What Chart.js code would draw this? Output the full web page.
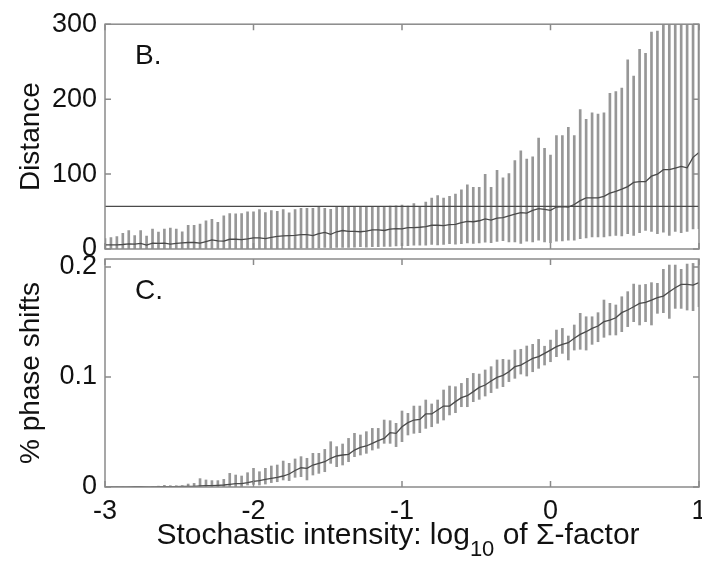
<!DOCTYPE html>
<html>
<head>
<meta charset="utf-8">
<script src="https://cdn.jsdelivr.net/npm/chart.js@4.4.1/dist/chart.umd.min.js"></script>
<style>
  body { margin: 0; background: #fff; }
  #wrap { position: relative; width: 702px; height: 566px; }
  #wrap canvas { position: absolute; left: 0; top: 0; }
</style>
</head>
<body>
<div id="wrap">
  <canvas id="distChart" width="702" height="566"></canvas>
  <canvas id="phaseChart" width="702" height="566"></canvas>
</div>
<script>
// x grid: log10 of the Sigma-factor
const xs = [
  -3, -2.96, -2.92, -2.88, -2.84, -2.8, -2.76, -2.72, -2.68, -2.64,
  -2.6, -2.56, -2.52, -2.48, -2.44, -2.4, -2.36, -2.32, -2.28, -2.24,
  -2.2, -2.16, -2.12, -2.08, -2.04, -2, -1.96, -1.92, -1.88, -1.84,
  -1.8, -1.76, -1.72, -1.68, -1.64, -1.6, -1.56, -1.52, -1.48, -1.44,
  -1.4, -1.36, -1.32, -1.28, -1.24, -1.2, -1.16, -1.12, -1.08, -1.04,
  -1, -0.96, -0.92, -0.88, -0.84, -0.8, -0.76, -0.72, -0.68, -0.64,
  -0.6, -0.56, -0.52, -0.48, -0.44, -0.4, -0.36, -0.32, -0.28, -0.24,
  -0.2, -0.16, -0.12, -0.08, -0.04, 0, 0.04, 0.08, 0.12, 0.16,
  0.2, 0.24, 0.28, 0.32, 0.36, 0.4, 0.44, 0.48, 0.52, 0.56,
  0.6, 0.64, 0.68, 0.72, 0.76, 0.8, 0.84, 0.88, 0.92, 0.96,
  1
];

// panel B: distance
const distMean = [
  5.5, 5.6, 5.6, 6.0, 6.9, 6.5, 7.4, 5.2, 7.8, 7.4,
  7.8, 6.5, 7.4, 8.3, 8.7, 8.7, 7.8, 9.9, 12.1, 10.8,
  10.4, 13.0, 13.0, 12.6, 13.4, 14.8, 14.8, 13.9, 15.6, 16.9,
  17.4, 17.8, 18.2, 19.1, 19.1, 17.8, 20.4, 22.1, 19.5, 23.0,
  24.7, 23.4, 23.4, 23.0, 23.9, 25.6, 25.6, 24.7, 26.5, 27.3,
  26.9, 28.6, 28.6, 29.0, 29.9, 31.7, 31.7, 31.2, 32.5, 32.9,
  35.1, 36.9, 36.4, 37.7, 40.3, 38.6, 41.2, 42.0, 44.3, 46.4,
  48.6, 48.0, 51.6, 53.8, 53.0, 51.6, 56.0, 56.5, 56.0, 59.4,
  64.6, 68.1, 68.1, 68.1, 70.3, 74.6, 76.8, 79.8, 83.3, 88.9,
  89.8, 89.8, 97.2, 99.8, 105.8, 105.8, 108.0, 110.2, 108.4, 122.3,
  128.9
];
const distHigh = [
  14, 15.2, 16.5, 20.8, 24.7, 17.8, 24.7, 17.4, 26.5, 22.6,
  26.5, 27.8, 26.5, 23.0, 31.7, 31.7, 33.4, 37.7, 39.5, 35.6,
  44.3, 47.3, 46.9, 47.3, 49.5, 49.5, 52.5, 48.6, 51.2, 50.3,
  52.5, 48.2, 52.5, 54.3, 54.3, 54.3, 56.0, 54.3, 53.0, 56.0,
  56.0, 56.0, 56.0, 56.0, 56.0, 56.0, 56.9, 56.0, 57.3, 57.7,
  58.6, 57.3, 60.7, 56.5, 62.5, 68.1, 71.2, 68.1, 70.3, 73.3,
  79.0, 85.5, 82.4, 82.4, 99.8, 82.4, 105.0, 95.0, 100.7, 118.0,
  131.0, 120.0, 123.0, 148.0, 134.5, 125.4, 151.4, 151.4, 162.3, 151.4,
  186.0, 173.0, 181.8, 180.0, 181.8, 207.8, 210.0, 214.8, 252.5, 230.8,
  266.4, 261.2, 289.4, 290.7, 320, 330, 340, 335, 350, 345,
  360
];
const distLow = [
  0, 0, 0, 0, 0, 0, 0, 0, 0, 0,
  0, 0, 0, 0, 0, 0, 0, 0, 0, 0,
  0, 0, 0, 0, 0, 0, 0, 0, 0, 0,
  0, 0, 0, 1, 1, 1, 1.5, 2, 1.5, 2,
  2, 2, 2.5, 3, 2.5, 3, 3, 3.5, 3.5, 4,
  4.5, 4.5, 5, 5, 5, 6, 5.5, 6, 7, 6.5,
  7, 8, 7.5, 8, 9, 8.5, 10, 11, 9.5, 9.5,
  7.4, 10.4, 9.5, 11.7, 9.5, 8.3, 10.4, 10.8, 11.7, 11.7,
  13.9, 14.8, 16.1, 16.1, 16.1, 17.4, 18.2, 17.4, 20.4, 18.2,
  21.7, 24.7, 23.4, 20.4, 22.6, 18.2, 23.4, 21.7, 23.4, 26.9,
  27
];
const distRef = 57;

// panel C: fraction of phase shifts
const phaseMean = [
  0, 0, 0, 0, 0, 0.0003, 0.0003, 0, 0.0002, 0.0003,
  0.0003, 0.0003, 0.0003, 0.0006, 0.0006, 0.0006, 0.0009, 0.0012, 0.0012, 0.0015,
  0.0018, 0.0024, 0.003, 0.003, 0.0039, 0.0052, 0.0058, 0.007, 0.0079, 0.0088,
  0.01, 0.0118, 0.015, 0.0175, 0.017, 0.02, 0.0215, 0.023, 0.0261, 0.0282,
  0.0291, 0.0297, 0.0336, 0.0361, 0.0373, 0.0397, 0.0421, 0.0442, 0.0494, 0.0488,
  0.0548, 0.0585, 0.0609, 0.0615, 0.0664, 0.0664, 0.07, 0.0736, 0.0736, 0.0776,
  0.0812, 0.083, 0.0867, 0.0906, 0.0927, 0.0964, 0.0997, 0.1015, 0.1048, 0.1094,
  0.1109, 0.1139, 0.117, 0.1185, 0.1215, 0.1245, 0.1276, 0.1297, 0.1312, 0.1352,
  0.1388, 0.1412, 0.1442, 0.1464, 0.1503, 0.1518, 0.1539, 0.1585, 0.1609, 0.1639,
  0.167, 0.1679, 0.17, 0.1721, 0.1736, 0.1776, 0.1812, 0.1842, 0.1842, 0.1836,
  0.1858
];
const phaseHigh = [
  0, 0, 0, 0, 0, 0.0003, 0.0003, 0, 0.0004, 0.0008,
  0.0015, 0.0012, 0.0012, 0.0012, 0.0027, 0.0033, 0.0076, 0.0064, 0.0058, 0.0058,
  0.007, 0.0124, 0.0109, 0.01, 0.013, 0.017, 0.0139, 0.017, 0.0191, 0.02,
  0.0236, 0.0215, 0.0255, 0.0276, 0.0261, 0.0306, 0.0306, 0.0342, 0.0412, 0.0367,
  0.0391, 0.0442, 0.0488, 0.0473, 0.0503, 0.0533, 0.0533, 0.0609, 0.0603, 0.0579,
  0.0691, 0.067, 0.0736, 0.0736, 0.0791, 0.0755, 0.0791, 0.0882, 0.0918, 0.0912,
  0.0942, 0.0988, 0.1033, 0.1027, 0.1064, 0.1094, 0.1155, 0.1161, 0.1155, 0.1245,
  0.1252, 0.1282, 0.1297, 0.1342, 0.128, 0.1336, 0.1427, 0.1442, 0.1373, 0.1473,
  0.1579, 0.1548, 0.1548, 0.1585, 0.17, 0.167, 0.1655, 0.173, 0.1776, 0.1845,
  0.1836, 0.1842, 0.1858, 0.1852, 0.1979, 0.2018, 0.2018, 0.1979, 0.2027, 0.2033,
  0.206
];
const phaseLow = [
  0, 0, 0, 0, 0, 0.0003, 0.0003, 0, 0.0001, 0,
  0, 0, 0, 0, 0, 0, 0, 0, 0, 0,
  0, 0, 0, 0, 0.0018, 0.0024, 0.0018, 0.0027, 0.004, 0.0048,
  0.0064, 0.0058, 0.0088, 0.0094, 0.0064, 0.0109, 0.0124, 0.0139, 0.0215, 0.0185,
  0.02, 0.023, 0.0276, 0.0291, 0.0306, 0.0336, 0.0352, 0.0397, 0.0397, 0.0367,
  0.0412, 0.0473, 0.0488, 0.0494, 0.0533, 0.0548, 0.0579, 0.0609, 0.0655, 0.0676,
  0.073, 0.073, 0.0776, 0.0797, 0.0827, 0.0858, 0.0897, 0.0912, 0.0958, 0.0988,
  0.1027, 0.1009, 0.1048, 0.1079, 0.1109, 0.1139, 0.1185, 0.1215, 0.1155, 0.1245,
  0.1252, 0.1245, 0.1297, 0.1321, 0.1361, 0.1382, 0.1382, 0.1412, 0.1458, 0.1503,
  0.1473, 0.1503, 0.1473, 0.1579, 0.1585, 0.1533, 0.1624, 0.1624, 0.1609, 0.1603,
  0.164
];

const xTicks = [-3, -2, -1, 0, 1];
const distTicks = [0, 100, 200, 300];
const phaseTicks = [0, 0.1, 0.2];
const xTitleMain = 'Stochastic intensity: log';
const xTitleSub = '10';
const xTitleTail = ' of \u03A3-factor';

const FONT = '"Liberation Sans", Arial, sans-serif';
const tickFont = { size: 27, family: FONT };
const titleFont = { size: 28, family: FONT };
const BAR_GRAY = '#979797';
const LINE_GRAY = '#4a4a4a';
const BOX_GRAY = '#8a8a8a';

// box round the plot with inward ticks, plus the panel letter
const frameBox = {
  id: 'frameBox',
  afterDatasetsDraw(chart, args, opts) {
    const { ctx, chartArea: a, scales } = chart;
    ctx.save();
    ctx.strokeStyle = BOX_GRAY;
    ctx.lineWidth = 1.5;
    ctx.strokeRect(a.left, a.top, a.right - a.left, a.bottom - a.top);
    ctx.beginPath();
    xTicks.forEach(v => {
      const px = scales.x.getPixelForValue(v);
      ctx.moveTo(px, a.bottom); ctx.lineTo(px, a.bottom - 6);
      ctx.moveTo(px, a.top); ctx.lineTo(px, a.top + 6);
    });
    opts.ticks.forEach(v => {
      const py = scales.y.getPixelForValue(v);
      ctx.moveTo(a.left, py); ctx.lineTo(a.left + 6, py);
      ctx.moveTo(a.right, py); ctx.lineTo(a.right - 6, py);
    });
    ctx.stroke();
    ctx.fillStyle = '#111';
    ctx.font = '28px ' + FONT;
    ctx.textBaseline = 'alphabetic';
    ctx.fillText(opts.letter, a.left + 30, a.top + 40);
    ctx.restore();
  }
};

// x title with a subscript
const xTitle = {
  id: 'xTitle',
  afterDraw(chart) {
    const { ctx, chartArea: a } = chart;
    const big = '30px ' + FONT, small = '22px ' + FONT;
    ctx.save();
    ctx.fillStyle = '#111';
    ctx.textBaseline = 'alphabetic';
    ctx.font = big;
    const w1 = ctx.measureText(xTitleMain).width;
    const w3 = ctx.measureText(xTitleTail).width;
    ctx.font = small;
    const w2 = ctx.measureText(xTitleSub).width;
    let x = (a.left + a.right) / 2 - 4 - (w1 + w2 + w3) / 2;
    const y = 544;
    ctx.font = big; ctx.fillText(xTitleMain, x, y); x += w1;
    ctx.font = small; ctx.fillText(xTitleSub, x, y + 12); x += w2;
    ctx.font = big; ctx.fillText(xTitleTail, x, y);
    ctx.restore();
  }
};

function yScale(min, max, ticks, title) {
  return {
    min, max,
    afterFit(s) { s.width = 105; },
    afterBuildTicks(s) { s.ticks = ticks.map(v => ({ value: v })); },
    grid: { display: false, drawTicks: false },
    border: { display: false },
    ticks: { color: '#111', font: tickFont, padding: 8 },
    title: { display: true, text: title, color: '#111', font: titleFont, padding: { top: 14, bottom: 0 } }
  };
}

function errorSets(mean, low, high) {
  return [
    {
      type: 'line', order: 1,
      data: xs.map((x, i) => ({ x, y: mean[i] })),
      borderColor: LINE_GRAY, borderWidth: 1.3, pointRadius: 0, tension: 0
    },
    {
      type: 'bar', order: 3, grouped: false,
      data: xs.map((x, i) => ({ x, y: [low[i], high[i]] })),
      backgroundColor: BAR_GRAY, borderWidth: 0, barThickness: 2
    }
  ];
}

const common = {
  responsive: false,
  animation: false,
  events: [],
  plugins: { legend: { display: false }, tooltip: { enabled: false } }
};

const distSets = errorSets(distMean, distLow, distHigh);
distSets.push({
  type: 'line', order: 2,
  data: [{ x: xs[0], y: distRef }, { x: xs[xs.length - 1], y: distRef }],
  borderColor: LINE_GRAY, borderWidth: 1.3, pointRadius: 0
});

new Chart(document.getElementById('distChart'), {
  type: 'bar',
  data: { datasets: distSets },
  options: {
    ...common,
    layout: { padding: { top: 20, right: 3, bottom: 317, left: 0 } },
    scales: {
      x: { type: 'linear', min: -3, max: 1, offset: false, display: false },
      y: yScale(0, 300, distTicks, 'Distance')
    },
    plugins: { ...common.plugins, frameBox: { letter: 'B.', ticks: distTicks } }
  },
  plugins: [frameBox]
});

new Chart(document.getElementById('phaseChart'), {
  type: 'bar',
  data: { datasets: errorSets(phaseMean, phaseLow, phaseHigh) },
  options: {
    ...common,
    layout: { padding: { top: 259, right: 3, bottom: 0, left: 0 } },
    scales: {
      x: {
        type: 'linear', min: -3, max: 1, offset: false,
        afterFit(s) { s.height = 79; s.paddingLeft = 0; s.paddingRight = 0; },
        afterBuildTicks(s) { s.ticks = xTicks.map(v => ({ value: v })); },
        grid: { display: false, drawTicks: false },
        border: { display: false },
        ticks: { color: '#111', font: tickFont, padding: 8, maxRotation: 0, autoSkip: false }
      },
      y: yScale(0, 0.2073, phaseTicks, '% phase shifts')
    },
    plugins: { ...common.plugins, frameBox: { letter: 'C.', ticks: phaseTicks } }
  },
  plugins: [frameBox, xTitle]
});
</script>
</body>
</html>
